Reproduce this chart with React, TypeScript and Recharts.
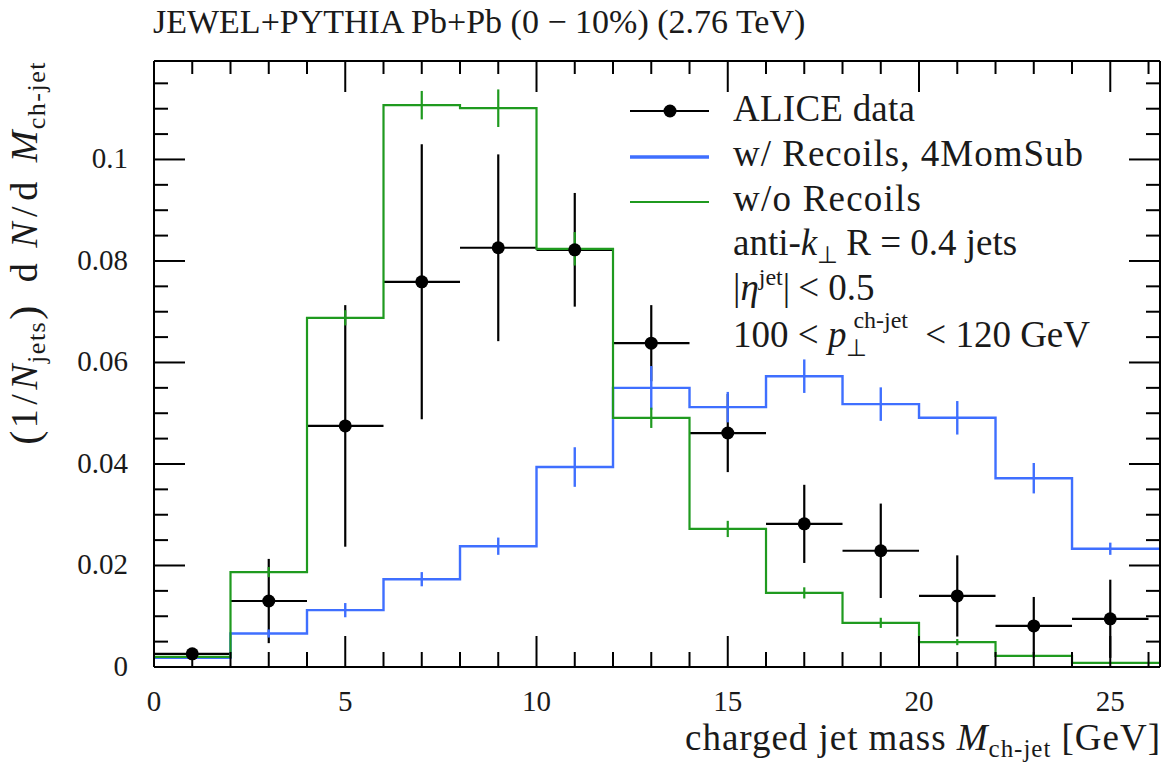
import React from 'react';
import { ComposedChart, Line, Scatter, XAxis, YAxis, ErrorBar } from 'recharts';

// ---------- data ----------
const binEdges = [0, 2, 4, 6, 8, 10, 12, 14, 16, 18, 20, 22, 24, 28];
const binCenters = [1, 3, 5, 7, 9, 11, 13, 15, 17, 19, 21, 23, 25];
const binHalfWidths = [1, 1, 1, 1, 1, 1, 1, 1, 1, 1, 1, 1, 1];

const aliceValues = [0.0026, 0.013, 0.0475, 0.0759, 0.0826, 0.0822, 0.0638, 0.0461, 0.0282, 0.0229, 0.014, 0.0081, 0.0095];
const aliceErrors = [0.001, 0.0083, 0.0238, 0.0271, 0.0184, 0.0112, 0.0075, 0.0077, 0.0077, 0.0093, 0.008, 0.0057, 0.0077];

const recoilValues = [0.0018, 0.0066, 0.0112, 0.0173, 0.0238, 0.0394, 0.055, 0.0512, 0.0573, 0.0518, 0.0491, 0.0372, 0.0233];
const recoilErrors = [0.0003, 0.0008, 0.0014, 0.0014, 0.0017, 0.0039, 0.0043, 0.003, 0.0033, 0.0033, 0.0033, 0.003, 0.0012];

const noRecoilValues = [0.002, 0.0187, 0.0688, 0.1107, 0.1101, 0.0824, 0.0491, 0.0272, 0.0146, 0.0087, 0.0049, 0.0022, 0.0008];
const noRecoilErrors = [0.0006, 0.001, 0.0015, 0.0028, 0.0037, 0.0033, 0.002, 0.0016, 0.0011, 0.001, 0.0006, 0.0004, 0.0002];

const xTicks = [0, 1, 2, 3, 4, 5, 6, 7, 8, 9, 10, 11, 12, 13, 14, 15, 16, 17, 18, 19, 20, 21, 22, 23, 24, 25, 26];
const yTicks = [0, 0.005, 0.01, 0.015, 0.02, 0.025, 0.03, 0.035, 0.04, 0.045, 0.05, 0.055, 0.06, 0.065, 0.07, 0.075, 0.08, 0.085, 0.09, 0.095, 0.1, 0.105, 0.11, 0.115];
const yMajorLabels: Record<string, string> = { '0': '0', '0.02': '0.02', '0.04': '0.04', '0.06': '0.06', '0.08': '0.08', '0.1': '0.1' };

const X_DOMAIN: [number, number] = [0, 26.3];
const Y_DOMAIN: [number, number] = [0, 0.1194];

// ---------- derived tables ----------
const histData = binEdges.map((x, i) => {
  const k = Math.min(i, recoilValues.length - 1);
  return { x, blue: recoilValues[k], green: noRecoilValues[k] };
});
const aliceData = binCenters.map((x, i) => ({ x, y: aliceValues[i], ex: binHalfWidths[i], ey: aliceErrors[i] }));
const recoilErrData = binCenters.map((x, i) => ({ x, y: recoilValues[i], ey: recoilErrors[i] }));
const noRecoilErrData = binCenters.map((x, i) => ({ x, y: noRecoilValues[i], ey: noRecoilErrors[i] }));

// ---------- style ----------
const FONT = "'Liberation Serif', 'Times New Roman', serif";
const INK = '#1a1a1a';
const BLUE = '#3f6fff';
const GREEN = '#1f9a1f';
const W = 1172;
const H = 767;
const LEG = 37;
const LEG_SMALL = 24;

const isMajorX = (v: number) => Math.round(v) % 5 === 0;
const isMajorY = (v: number) => Math.round(v / 0.005) % 4 === 0;

const XBottomTick = (props: any) => {
  const { x, y, payload } = props;
  const v = payload.value;
  const major = isMajorX(v);
  return (
    <g>
      <line x1={x} x2={x} y1={y} y2={y - (major ? 31 : 15)} stroke="#000" strokeWidth={2} />
      {major && (
        <text x={x} y={y + 44} textAnchor="middle" fontFamily={FONT} fontSize={29} fill={INK}>
          {v}
        </text>
      )}
    </g>
  );
};
const XTopTick = (props: any) => {
  const { x, y, payload } = props;
  const major = isMajorX(payload.value);
  return <line x1={x} x2={x} y1={y} y2={y + (major ? 31 : 13)} stroke="#000" strokeWidth={2} />;
};
const YLeftTick = (props: any) => {
  const { x, y, payload } = props;
  const v = payload.value;
  const major = isMajorY(v);
  const key = String(Math.round(v * 1000) / 1000);
  return (
    <g>
      <line x1={x} x2={x + (major ? 31 : 14)} y1={y} y2={y} stroke="#000" strokeWidth={2} />
      {major && (
        <text x={x - 26} y={y + 9} textAnchor="end" fontFamily={FONT} fontSize={29} fill={INK}>
          {yMajorLabels[key]}
        </text>
      )}
    </g>
  );
};
const YRightTick = (props: any) => {
  const { x, y, payload } = props;
  const major = isMajorY(payload.value);
  return <line x1={x} x2={x - (major ? 31 : 14)} y1={y} y2={y} stroke="#000" strokeWidth={2} />;
};

const DataDot = (p: any) => <circle cx={p.cx} cy={p.cy} r={6.5} fill="#000" />;
const NoDot = () => <g />;

const Overlay = () => (
  <svg width={W} height={H} style={{ position: 'absolute', left: 0, top: 0, pointerEvents: 'none' }}>
    <g fontFamily={FONT} fill={INK}>
      <text x={153} y={33} fontSize={34}>JEWEL+PYTHIA Pb+Pb (0 − 10%) (2.76 TeV)</text>

      {/* legend */}
      <line x1={630} x2={709} y1={111} y2={111} stroke="#000" strokeWidth={2.2} />
      <circle cx={670} cy={111} r={6.5} fill="#000" />
      <text x={733} y={121} fontSize={LEG} textLength={182} lengthAdjust="spacing">ALICE data</text>
      <line x1={630} x2={709} y1={157} y2={157} stroke={BLUE} strokeWidth={3.6} />
      <text x={733} y={166} fontSize={LEG} textLength={350} lengthAdjust="spacing">w/ Recoils, 4MomSub</text>
      <line x1={630} x2={709} y1={202} y2={202} stroke={GREEN} strokeWidth={2.2} />
      <text x={733} y={211} fontSize={LEG} textLength={188} lengthAdjust="spacing">w/o Recoils</text>
      <text x={733} y={255} fontSize={LEG}>
        anti-<tspan fontStyle="italic">k</tspan>
        <tspan fontSize={LEG_SMALL} dy={8}>⊥</tspan>
        <tspan dy={-8} dx={8}>R = 0.4 jets</tspan>
      </text>
      <text x={733} y={300} fontSize={LEG}>
        |<tspan fontStyle="italic">η</tspan>
        <tspan fontSize={LEG_SMALL} dy={-15}>jet</tspan>
        <tspan dy={15}>|</tspan>
        <tspan dx={8}>&lt; 0.5</tspan>
      </text>
      <text x={733} y={347} fontSize={LEG}>
        100 &lt; <tspan fontStyle="italic">p</tspan>
        <tspan fontSize={LEG_SMALL} dy={9}>⊥</tspan>
        <tspan fontSize={LEG_SMALL} dx={-14} dy={-28}>ch-jet</tspan>
        <tspan dy={19} dx={8}> &lt; 120 GeV</tspan>
      </text>

      {/* x axis label */}
      <text x={1160} y={750} textAnchor="end" fontSize={37} textLength={475} lengthAdjust="spacing">
        charged jet mass <tspan fontStyle="italic">M</tspan>
        <tspan fontSize={25} dy={7}>ch-jet</tspan>
        <tspan dy={-7}> [GeV]</tspan>
      </text>

      {/* y axis label */}
      <text transform="translate(37,61) rotate(-90)" textAnchor="end" fontSize={38} letterSpacing={1.5}>
        <tspan fontSize={42} dy={2}>(</tspan>
        <tspan dy={-2} dx={1}>1</tspan>
        <tspan dx={3}>/</tspan>
        <tspan dx={3} fontStyle="italic">N</tspan>
        <tspan fontSize={26} dy={8}>jets</tspan>
        <tspan fontSize={42} dy={-6} dx={1}>)</tspan>
        <tspan dy={-2} dx={22}>d</tspan>
        <tspan dx={14} fontStyle="italic">N</tspan>
        <tspan dx={4}>/</tspan>
        <tspan dx={4}>d</tspan>
        <tspan dx={18} fontStyle="italic">M</tspan>
        <tspan fontSize={26} dy={8}>ch-jet</tspan>
      </text>
    </g>
  </svg>
);

export default function App() {
  return (
    <div style={{ position: 'absolute', left: 0, top: 0, width: W, height: H, background: '#fff' }}>
      <ComposedChart width={W} height={H} margin={{ top: 0, right: 0, bottom: 0, left: 0 }}>
        <XAxis
          xAxisId="b"
          orientation="bottom"
          type="number"
          dataKey="x"
          domain={X_DOMAIN}
          allowDataOverflow
          ticks={xTicks}
          interval={0}
          height={100}
          tickSize={0}
          tickMargin={0}
          tickLine={false}
          axisLine={{ stroke: '#000', strokeWidth: 2 }}
          tick={<XBottomTick />}
        />
        <XAxis
          xAxisId="t"
          orientation="top"
          type="number"
          dataKey="x"
          domain={X_DOMAIN}
          allowDataOverflow
          ticks={xTicks}
          interval={0}
          height={61}
          tickSize={0}
          tickMargin={0}
          tickLine={false}
          axisLine={{ stroke: '#000', strokeWidth: 2 }}
          tick={<XTopTick />}
        />
        <YAxis
          yAxisId="l"
          orientation="left"
          type="number"
          dataKey="y"
          domain={Y_DOMAIN}
          allowDataOverflow
          ticks={yTicks}
          interval={0}
          width={154}
          tickSize={0}
          tickMargin={0}
          tickLine={false}
          axisLine={{ stroke: '#000', strokeWidth: 2 }}
          tick={<YLeftTick />}
        />
        <YAxis
          yAxisId="r"
          orientation="right"
          type="number"
          dataKey="y"
          domain={Y_DOMAIN}
          allowDataOverflow
          ticks={yTicks}
          interval={0}
          width={12}
          tickSize={0}
          tickMargin={0}
          tickLine={false}
          axisLine={{ stroke: '#000', strokeWidth: 2 }}
          tick={<YRightTick />}
        />

        <Scatter data={aliceData} dataKey="y" xAxisId="b" yAxisId="l" shape={<DataDot />} isAnimationActive={false}>
          <ErrorBar dataKey="ey" direction="y" width={0} stroke="#000" strokeWidth={2.2} isAnimationActive={false} />
          <ErrorBar dataKey="ex" direction="x" width={0} stroke="#000" strokeWidth={2.2} isAnimationActive={false} />
        </Scatter>

        <Line
          data={histData}
          dataKey="blue"
          type="stepAfter"
          xAxisId="b"
          yAxisId="l"
          stroke={BLUE}
          strokeWidth={2.4}
          dot={false}
          activeDot={false}
          isAnimationActive={false}
        />
        <Line
          data={histData}
          dataKey="green"
          type="stepAfter"
          xAxisId="b"
          yAxisId="l"
          stroke={GREEN}
          strokeWidth={2.2}
          dot={false}
          activeDot={false}
          isAnimationActive={false}
        />

        <Scatter data={recoilErrData} dataKey="y" xAxisId="b" yAxisId="l" shape={<NoDot />} isAnimationActive={false}>
          <ErrorBar dataKey="ey" direction="y" width={0} stroke={BLUE} strokeWidth={2.4} isAnimationActive={false} />
        </Scatter>
        <Scatter data={noRecoilErrData} dataKey="y" xAxisId="b" yAxisId="l" shape={<NoDot />} isAnimationActive={false}>
          <ErrorBar dataKey="ey" direction="y" width={0} stroke={GREEN} strokeWidth={2.2} isAnimationActive={false} />
        </Scatter>
      </ComposedChart>
      <Overlay />
    </div>
  );
}
